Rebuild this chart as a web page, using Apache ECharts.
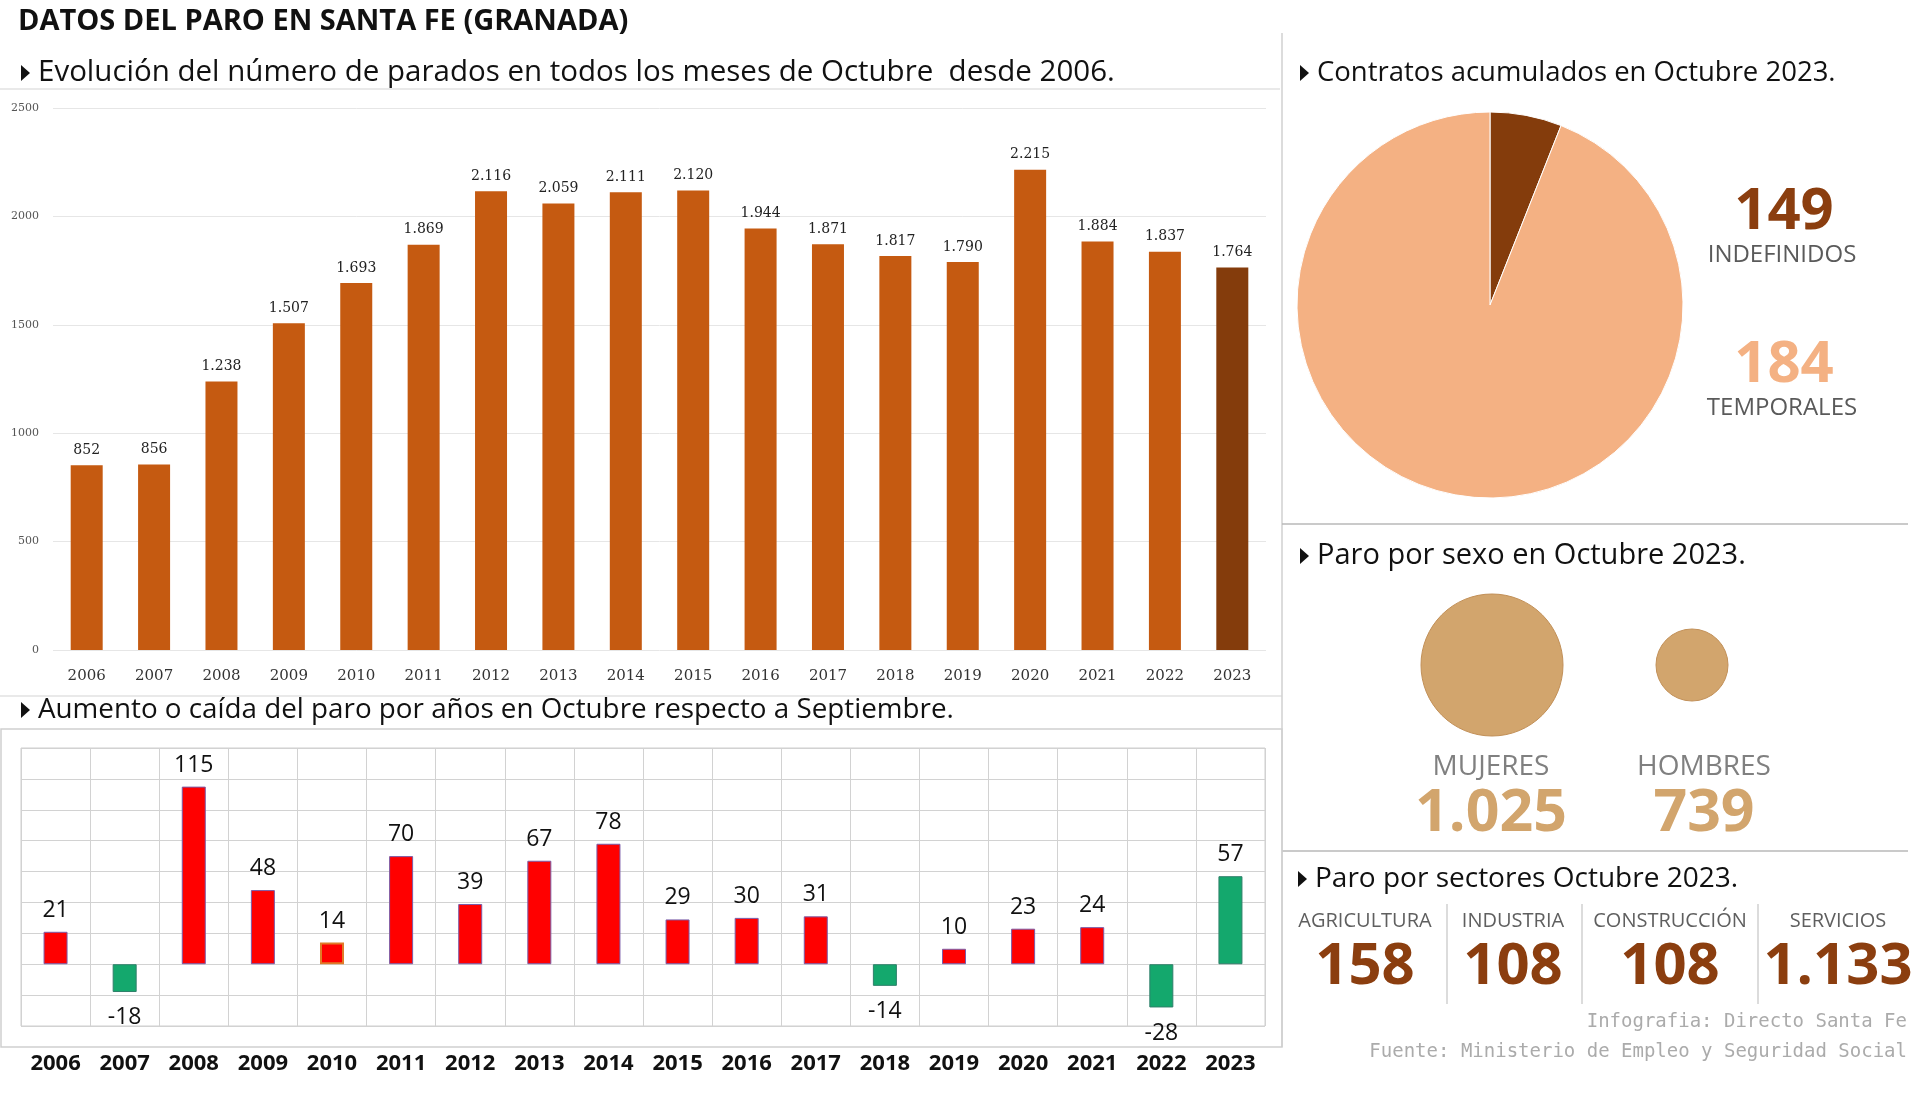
<!DOCTYPE html>
<html>
<head>
<meta charset="utf-8">
<script src="https://cdn.jsdelivr.net/npm/echarts@6/dist/echarts.min.js"></script>
<style>
html, body { margin: 0; padding: 0; background: #fff; }
#main { width: 1920px; height: 1093px; }
</style>
</head>
<body>
<div id="main"></div>
<script>
// datos
var years = ['2006', '2007', '2008', '2009', '2010', '2011', '2012', '2013', '2014', '2015', '2016', '2017', '2018', '2019', '2020', '2021', '2022', '2023'];
var parados = [852, 856, 1238, 1507, 1693, 1869, 2116, 2059, 2111, 2120, 1944, 1871, 1817, 1790, 2215, 1884, 1837, 1764];
var variacion = [21, -18, 115, 48, 14, 70, 39, 67, 78, 29, 30, 31, -14, 10, 23, 24, -28, 57];
var contratoNombres = ['INDEFINIDOS', 'TEMPORALES'];
var contratoValores = [149, 184];
var contratoPorcion = [6, 94]; // lo que dibuja la tarta original
var sexoNombres = ['MUJERES', 'HOMBRES'];
var sexoValores = [1025, 739];
var sectorNombres = ['AGRICULTURA', 'INDUSTRIA', 'CONSTRUCCIÓN', 'SERVICIOS'];
var sectorValores = [158, 108, 108, 1133];

var SANS = '"Open Sans", "DejaVu Sans", sans-serif';
var SERIF = '"DejaVu Serif", serif';
var MONO = '"DejaVu Sans Mono", monospace';

function fmt(n) {
	return String(n).replace(/\B(?=(\d{3})+(?!\d))/g, '.');
}

var chart = echarts.init(document.getElementById('main'));

// barras de arriba
var topData = [];
for (var i = 0; i < parados.length; i++) {
	topData.push({
		value: parados[i],
		itemStyle: { color: i === parados.length - 1 ? '#843C0C' : '#C55A11' }
	});
}

// barras de abajo
var bottomData = [];
for (var i = 0; i < variacion.length; i++) {
	var v = variacion[i];
	var green = v < 0 || years[i] === '2023';
	var item = {
		value: v,
		itemStyle: {
			color: green ? '#14A86D' : '#FF0000',
			borderColor: green ? '#2F7F6A' : '#7A5CA8',
			borderWidth: 1
		},
		label: { position: v < 0 ? 'bottom' : 'top', distance: v < 0 ? 14 : 10 }
	};
	if (years[i] === '2010') {
		item.itemStyle.borderColor = '#E07B28';
		item.itemStyle.borderWidth = 2;
	}
	bottomData.push(item);
}

var bubbleSizes = [142, 72];
var bubbleData = [];
for (var i = 0; i < sexoNombres.length; i++) {
	bubbleData.push({ name: sexoNombres[i], value: [sexoNombres[i], 0], symbolSize: bubbleSizes[i] });
}

function txt(x, y, text, o) {
	return {
		type: 'text', x: x, y: y, silent: true,
		style: {
			text: text,
			fill: o.color || '#111',
			fontSize: o.size,
			fontWeight: o.weight || 'normal',
			fontFamily: o.family || SANS,
			align: o.align || 'left',
			verticalAlign: 'middle'
		}
	};
}
function line(x1, y1, x2, y2, color) {
	return {
		type: 'line', silent: true,
		shape: { x1: x1, y1: y1, x2: x2, y2: y2 },
		style: { stroke: color || '#d4d4d4', lineWidth: 1.5 }
	};
}
// subtitulo con triangulo negro
function subtitle(x, y, text, size) {
	return [
		{
			type: 'polygon', silent: true,
			shape: { points: [[x, y - 8], [x + 9, y], [x, y + 8]] },
			style: { fill: '#111' }
		},
		txt(x + 17, y, text, { size: size })
	];
}

var graphics = [
	txt(18, 22, 'DATOS DEL PARO EN SANTA FE (GRANADA)', { size: 29, weight: 'bold' }),
	line(0, 89, 1280, 89, '#e2e2e2'),
	line(0, 696, 1282, 696, '#e2e2e2'),
	line(1282, 33, 1282, 1047, '#d0d0d0'),
	line(1282, 524, 1908, 524, '#b8b8b8'),
	line(1282, 851, 1908, 851, '#b8b8b8'),
	{
		type: 'rect', silent: true,
		shape: { x: 1, y: 729, width: 1281, height: 318 },
		style: { fill: 'none', stroke: '#cfcfcf', lineWidth: 1.5 }
	}
];
graphics = graphics.concat(
	subtitle(21, 73, 'Evolución del número de parados en todos los meses de Octubre  desde 2006.', 29.5),
	subtitle(21, 710, 'Aumento o caída del paro por años en Octubre respecto a Septiembre.', 27.8),
	subtitle(1300, 73, 'Contratos acumulados en Octubre 2023.', 27.5),
	subtitle(1300, 556, 'Paro por sexo en Octubre 2023.', 29),
	subtitle(1298, 879, 'Paro por sectores Octubre 2023.', 28)
);

// contratos
var contratoColores = ['#8B3E0F', '#F4B183'];
var contratoY = [212, 365];
for (var i = 0; i < contratoNombres.length; i++) {
	graphics.push(txt(1784, contratoY[i], String(contratoValores[i]), { size: 58, weight: 'bold', color: contratoColores[i], align: 'center' }));
	graphics.push(txt(1782, contratoY[i] + 43, contratoNombres[i], { size: 24, color: '#5a5a5a', align: 'center' }));
}

// sexo
var sexoX = [1491, 1704];
for (var i = 0; i < sexoNombres.length; i++) {
	graphics.push(txt(sexoX[i], 767, sexoNombres[i], { size: 28, color: '#808080', align: 'center' }));
	graphics.push(txt(sexoX[i], 814, fmt(sexoValores[i]), { size: 59, weight: 'bold', color: '#D2A56D', align: 'center' }));
}

// sectores
var sectorX = [1365, 1513, 1670, 1838];
for (var i = 0; i < sectorNombres.length; i++) {
	graphics.push(txt(sectorX[i], 921, sectorNombres[i], { size: 20, color: '#5f5f5f', align: 'center' }));
	graphics.push(txt(sectorX[i], 967, fmt(sectorValores[i]), { size: 58, weight: 'bold', color: '#8B3E0F', align: 'center' }));
}
var sepX = [1447, 1582, 1758];
for (var i = 0; i < sepX.length; i++) {
	graphics.push(line(sepX[i], 904, sepX[i], 1004, '#d0d0d0'));
}

graphics.push(txt(1907, 1022, 'Infografia: Directo Santa Fe', { size: 19, color: '#ababab', align: 'right', family: MONO }));
graphics.push(txt(1907, 1052, 'Fuente: Ministerio de Empleo y Seguridad Social', { size: 19, color: '#ababab', align: 'right', family: MONO }));

var option = {
	animation: false,
	backgroundColor: '#fff',
	grid: [
		{ left: 53, top: 108, width: 1213, height: 542 },
		{ left: 21, top: 748, width: 1244, height: 278, show: true, borderColor: '#cfcfcf', borderWidth: 1 },
		{ left: 1392, top: 595, width: 400, height: 140 }
	],
	xAxis: [
		{
			type: 'category', gridIndex: 0, data: years,
			axisLine: { show: false }, axisTick: { show: false },
			axisLabel: { fontFamily: SERIF, fontSize: 15, color: '#333', margin: 19 }
		},
		{
			type: 'category', gridIndex: 1, data: years,
			axisLine: { show: false, onZero: false }, axisTick: { show: false },
			splitLine: { show: true, lineStyle: { color: '#d2d2d2' } },
			axisLabel: { fontFamily: SANS, fontWeight: 'bold', fontSize: 22, color: '#111', margin: 27 }
		},
		{
			type: 'category', gridIndex: 2, data: sexoNombres, show: false
		}
	],
	yAxis: [
		{
			type: 'value', gridIndex: 0, min: 0, max: 2500, interval: 500,
			axisLine: { show: false }, axisTick: { show: false },
			axisLabel: {
				fontFamily: SERIF, fontSize: 11, color: '#555', margin: 14,
				formatter: function(v) { return String(v); }
			},
			splitLine: { lineStyle: { color: '#e6e6e6' } }
		},
		{
			type: 'value', gridIndex: 1, min: -40, max: 140, interval: 20,
			axisLine: { show: false }, axisTick: { show: false },
			axisLabel: { show: false },
			splitLine: { lineStyle: { color: '#d2d2d2' } }
		},
		{
			type: 'value', gridIndex: 2, min: -1, max: 1, show: false
		}
	],
	series: [
		{
			type: 'bar', xAxisIndex: 0, yAxisIndex: 0, barWidth: 32,
			data: topData,
			label: {
				show: true, position: 'top', distance: 8,
				fontFamily: SERIF, fontSize: 14, color: '#222',
				formatter: function(p) { return fmt(p.value); }
			}
		},
		{
			type: 'bar', xAxisIndex: 1, yAxisIndex: 1, barWidth: 24,
			data: bottomData,
			label: {
				show: true,
				fontFamily: SANS, fontSize: 23, color: '#111'
			}
		},
		{
			type: 'pie', center: [1490, 305], radius: 193, startAngle: 90,
			silent: true, label: { show: false }, labelLine: { show: false },
			itemStyle: { borderColor: '#fff', borderWidth: 1 },
			data: [
				{ name: contratoNombres[0], value: contratoPorcion[0], itemStyle: { color: '#843C0C' } },
				{ name: contratoNombres[1], value: contratoPorcion[1], itemStyle: { color: '#F4B183' } }
			]
		},
		{
			type: 'scatter', xAxisIndex: 2, yAxisIndex: 2, silent: true,
			itemStyle: { color: '#D2A56D', borderColor: '#C29058', borderWidth: 1, opacity: 1 },
			data: bubbleData
		}
	],
	graphic: graphics
};

chart.setOption(option);
</script>
</body>
</html>
